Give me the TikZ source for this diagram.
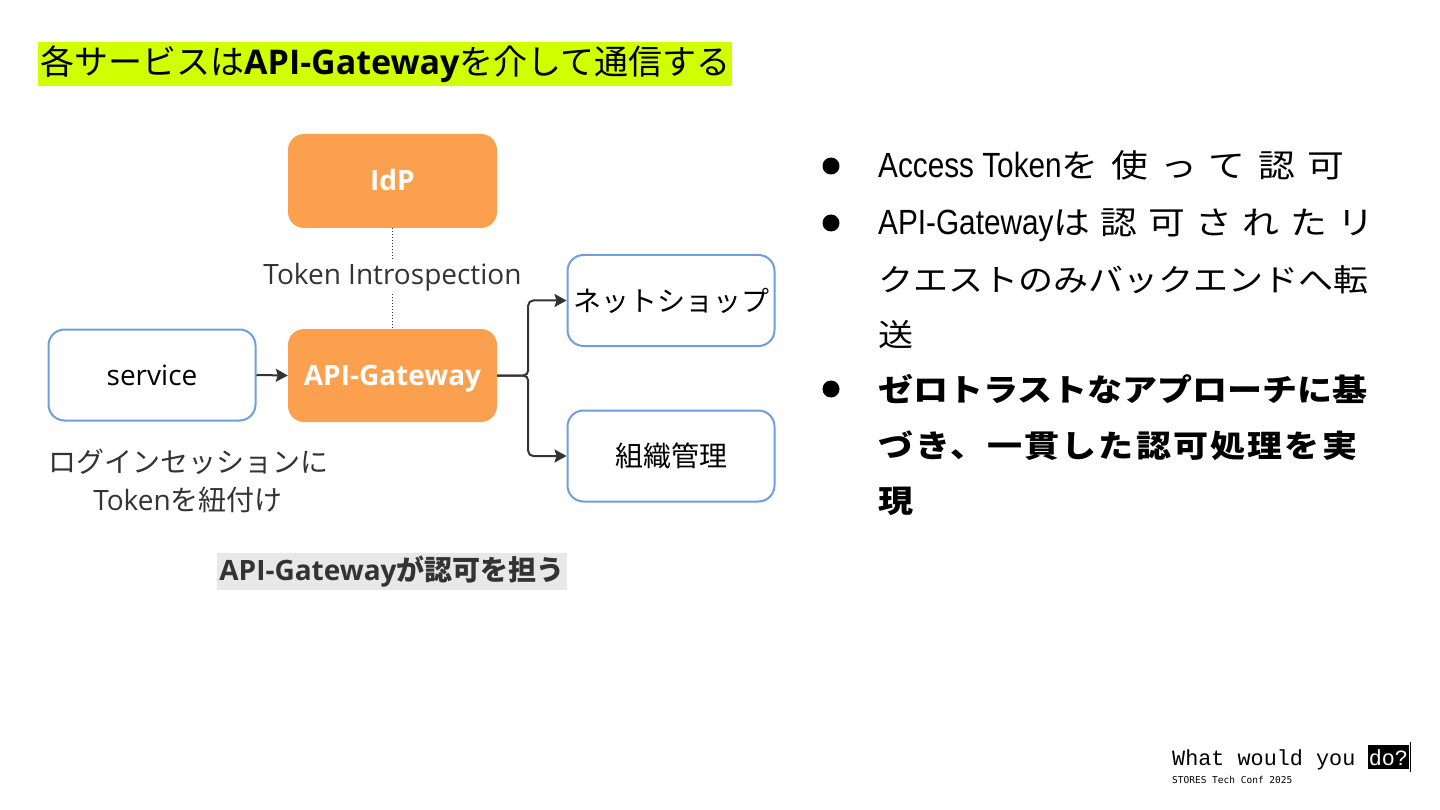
\documentclass[tikz,border=0pt]{standalone}
\usepackage{fontspec}
\usetikzlibrary{arrows.meta,positioning}
\setmainfont{Open Sans}
\newfontfamily\jp{Noto Sans CJK JP}
\newfontfamily\jpr[FakeStretch=1.13]{Noto Sans CJK JP}
\newfontfamily\jpw[FakeStretch=1.15,LetterSpace=33]{Noto Sans CJK JP}
\newfontfamily\jpx[FakeStretch=1.15,LetterSpace=40]{Noto Sans CJK JP}
\newfontfamily\jpv[FakeStretch=1.13,LetterSpace=7]{Noto Sans CJK JP}
\newfontfamily\arl[FakeStretch=0.85]{Liberation Sans}
\newfontfamily\mono{Liberation Mono}
\newfontfamily\smono{DejaVu Sans Mono}
\definecolor{hl}{HTML}{D0FF00}
\definecolor{org}{HTML}{FBA04E}
\definecolor{blu}{HTML}{6D9EE0}
\definecolor{ink}{HTML}{333333}
\definecolor{capbg}{HTML}{E8E8E8}
\tikzset{
  obox/.style={rounded corners=16pt, fill=org, text=white, font=\fontsize{28}{32}\selectfont\bfseries, minimum width=209pt, minimum height=94pt, inner sep=0pt, text height=20pt, text depth=0pt},
  wbox/.style={rounded corners=16pt, draw=blu, line width=2pt, fill=white, text=black, font=\fontsize{28}{32}\selectfont, minimum width=207pt, minimum height=91pt, inner sep=0pt},
  conn/.style={draw=ink, line width=2pt, -{Stealth[length=12pt,width=13pt,inset=2pt]}},
  bul/.style={circle, fill=black, minimum size=17pt, inner sep=0pt},
  rline/.style={anchor=base west, inner sep=0pt, text=black},
}
\begin{document}
\begin{tikzpicture}[x=1pt,y=-1pt]
\useasboundingbox (0,0) rectangle (1440,810);
% title
\node[anchor=north west, fill=hl, minimum width=694pt, minimum height=44pt, inner xsep=2pt, inner ysep=0pt, font=\fontsize{34}{40}\selectfont] (title) at (38,42) {\makebox[690pt][l]{{\jp 各サービスは}{\bfseries API-Gateway}{\jp を介して通信する}}};
% boxes
\node[obox] (idp) at (392.5,181) {IdP};
\node[obox, minimum height=93pt] (gw) at (392.5,375.5) {API-Gateway};
\node[wbox] (svc) at (152,375) {service};
\node[wbox] (shop) at (671,300.5) {\jp ネットショップ};
\node[wbox] (orgm) at (671,456) {\jp 組織管理};
% introspection label
\node[font=\fontsize{28}{32}\selectfont, text=ink, inner sep=3pt] (tok) at (392.5,277) {Token Introspection};
\draw[ink, line width=1pt, dotted] (idp.south) -- (tok.north);
\draw[ink, line width=1pt, dotted] (tok.south) -- (gw.north);
% connectors
\draw[conn] (svc.east) -- (gw.west);
\draw[conn, rounded corners=5pt] (gw.east) -- ++(31,0) |- (shop.west);
\draw[conn, rounded corners=5pt] (gw.east) -- ++(31,0) |- (orgm.west);
% captions
\node[align=center, text=ink, font=\fontsize{28}{38}\selectfont] (login) at (188,481) {{\jp ログインセッションに}\\Token{\jp を紐付け}};
\node[fill=capbg, minimum width=350pt, minimum height=37pt, inner sep=0pt, text=ink, font=\fontsize{28}{32}\selectfont\bfseries] (cap) at (392,571.5) {API-Gateway{\jp が認可を担う}};
% bullets
\node[bul] (b1) at (831,166) {};
\node[bul] (b2) at (831,223) {};
\node[bul] (b3) at (831,389) {};
\node[rline] (l1) at (878,178) {{\fontsize{35}{40}\arl Access Token}{\fontsize{32}{40}\jpx を使って認可}};
\node[rline] (l2) at (878,235) {{\fontsize{35}{40}\arl API-Gateway}{\fontsize{32}{40}\jpw は認可されたリ}};
\node[rline] (l3) at (878,291) {{\fontsize{31}{40}\jpr クエストのみバックエンドへ転}};
\node[rline] (l4) at (878,346) {{\fontsize{31}{40}\jpr 送}};
\node[rline] (l5) at (878,401) {{\fontsize{31}{40}\jpr\bfseries ゼロトラストなアプローチに基}};
\node[rline] (l6) at (878,457) {{\fontsize{31}{40}\jpv\bfseries づき、一貫した認可処理を実}};
\node[rline] (l7) at (878,512) {{\fontsize{31}{40}\jpr\bfseries 現}};
% footer
\node[anchor=base west, inner sep=0pt, font=\fontsize{21.8}{24}\mono] (wwy) at (1172,765) {What would you};
\node[anchor=base west, inner xsep=1pt, inner ysep=4pt, fill=black, text=white, font=\fontsize{21.8}{24}\mono] (do) at ([xshift=12pt]wwy.base east) {do?};
\coordinate (cur1) at ([xshift=1.5pt]do.east |- 0,742);
\coordinate (cur2) at ([xshift=1.5pt]do.east |- 0,772);
\draw[black, line width=1pt] (cur1) -- (cur2);
\node[anchor=base west, inner sep=0pt, font=\fontsize{9.5}{11}\smono] (conf) at (1172,783) {STORES Tech Conf 2025};
\end{tikzpicture}
\end{document}
